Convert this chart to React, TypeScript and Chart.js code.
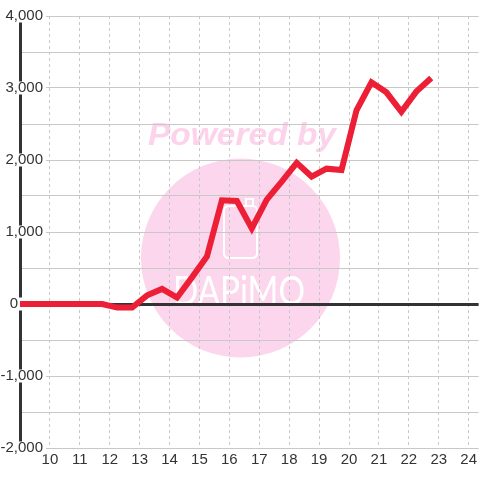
import React, { useEffect, useRef } from 'react';
import { Chart, registerables } from 'chart.js';

Chart.register(...registerables);

// Hours of the day (x) and running balance (y)
const hours = [
  8.75, 9.25, 9.75, 10.25, 10.75, 11.25, 11.75, 12.25, 12.75, 13.25,
  13.75, 14.25, 14.75, 15.25, 15.75, 16.25, 16.75, 17.25, 17.75, 18.25,
  18.75, 19.25, 19.75, 20.25, 20.75, 21.25, 21.75, 22.25, 22.75,
];
const balance = [
  0, 0, 0, 0, 0, 0, 0, -50, -50, 120,
  210, 90, 370, 660, 1440, 1430, 1050, 1450, 1700, 1960,
  1770, 1880, 1860, 2690, 3080, 2940, 2670, 2950, 3140,
];
const xTickValues = [10, 11, 12, 13, 14, 15, 16, 17, 18, 19, 20, 21, 22, 23, 24];
const yTickValues = [4000, 3500, 3000, 2500, 2000, 1500, 1000, 500, 0, -500, -1000, -1500, -2000];
const yLabelledTicks = [4000, 3000, 2000, 1000, 0, -1000, -2000];
const watermarkTop = 'Powered by';
const watermarkBrand = 'DAPiMO';

const FONT = '"Liberation Sans", Arial, sans-serif';

const watermarkPlugin = {
  id: 'watermark',
  beforeDraw(chart: any) {
    const ctx = chart.ctx as CanvasRenderingContext2D;
    ctx.save();
    ctx.fillStyle = '#ffffff';
    ctx.fillRect(0, 0, chart.width, chart.height);

    // pink disc
    ctx.fillStyle = 'rgb(251, 214, 236)';
    ctx.beginPath();
    ctx.arc(240.5, 258, 99.5, 0, Math.PI * 2);
    ctx.fill();

    // "Powered by"
    ctx.fillStyle = 'rgb(252, 211, 234)';
    ctx.font = `italic bold 31px ${FONT}`;
    ctx.textBaseline = 'alphabetic';
    ctx.textAlign = 'left';
    const w = ctx.measureText(watermarkTop).width;
    ctx.save();
    ctx.translate(148, 145);
    ctx.scale(188 / w, 1);
    ctx.fillText(watermarkTop, 0, 0);
    ctx.restore();

    // phone outline
    ctx.strokeStyle = '#ffffff';
    ctx.lineWidth = 2;
    const px = 224, py = 206, pw = 33, ph = 52, pr = 5;
    ctx.beginPath();
    ctx.moveTo(px + pr, py);
    ctx.lineTo(px + pw - pr, py);
    ctx.quadraticCurveTo(px + pw, py, px + pw, py + pr);
    ctx.lineTo(px + pw, py + ph - pr);
    ctx.quadraticCurveTo(px + pw, py + ph, px + pw - pr, py + ph);
    ctx.lineTo(px + pr, py + ph);
    ctx.quadraticCurveTo(px, py + ph, px, py + ph - pr);
    ctx.lineTo(px, py + pr);
    ctx.quadraticCurveTo(px, py, px + pr, py);
    ctx.stroke();
    ctx.beginPath();
    ctx.moveTo(246, 206);
    ctx.lineTo(246, 199);
    ctx.lineTo(253, 199);
    ctx.lineTo(253, 206);
    ctx.stroke();

    // brand text
    ctx.fillStyle = '#ffffff';
    ctx.font = `400 40px Lato, ${FONT}`;
    const bw = ctx.measureText(watermarkBrand).width;
    ctx.save();
    ctx.translate(173, 305);
    ctx.scale(132 / bw, 1);
    ctx.fillText(watermarkBrand, 0, 0);
    ctx.restore();

    ctx.restore();
  },
};

export default function App() {
  const ref = useRef<HTMLCanvasElement | null>(null);

  useEffect(() => {
    document.body.style.margin = '0';
    const canvas = ref.current;
    if (!canvas) return;
    const chart = new Chart(canvas, {
      type: 'line',
      data: {
        datasets: [
          {
            data: hours.map((h, i) => ({ x: h, y: balance[i] })),
            borderColor: '#ec1f36',
            borderWidth: 6,
            pointRadius: 0,
            tension: 0,
            fill: false,
            borderCapStyle: 'butt',
            borderJoinStyle: 'miter',
          },
        ],
      },
      options: {
        animation: false,
        responsive: false,
        devicePixelRatio: 1,
        layout: { padding: { top: 16, left: 0, right: 0, bottom: 0 } },
        plugins: {
          legend: { display: false },
          tooltip: { enabled: false },
        },
        scales: {
          x: {
            type: 'linear',
            min: 9,
            max: 9 + 460 / 30,
            afterBuildTicks: (s: any) => {
              s.ticks = xTickValues.map((v) => ({ value: v }));
            },
            afterFit: (s: any) => {
              s.height = 32;
            },
            grid: { color: '#c8c8c8', lineWidth: 1, drawTicks: false },
            border: { display: false, dash: [3, 3] },
            ticks: {
              autoSkip: false,
              maxRotation: 0,
              padding: 3,
              color: '#333333',
              font: { family: FONT, size: 15 },
              callback: (v: any) => String(v),
            },
          },
          y: {
            type: 'linear',
            min: -2000,
            max: 4000,
            afterBuildTicks: (s: any) => {
              s.ticks = yTickValues.map((v) => ({ value: v }));
            },
            afterFit: (s: any) => {
              s.width = 20;
            },
            grid: {
              color: (c: any) => (c.tick && c.tick.value === 0 ? '#333333' : '#c8c8c8'),
              lineWidth: (c: any) => (c.tick && c.tick.value === 0 ? 3 : 1),
              drawTicks: false,
            },
            border: { display: true, color: '#333333', width: 3 },
            ticks: {
              mirror: true,
              crossAlign: 'far',
              padding: -19.5,
              color: '#333333',
              font: { family: FONT, size: 15, lineHeight: 1 },
              showLabelBackdrop: (c: any) => !!(c.tick && yLabelledTicks.includes(c.tick.value)),
              backdropColor: '#ffffff',
              backdropPadding: { left: 3, right: 3, top: -1, bottom: -1 },
              callback: (v: any) => {
                const n = Number(v);
                if (!yLabelledTicks.includes(n)) return '';
                if (n === 0) return '0      ';
                return n.toLocaleString('en-US');
              },
            },
          },
        },
      },
      plugins: [watermarkPlugin],
    } as any);
    return () => chart.destroy();
  }, []);

  return (
    <div style={{ position: 'fixed', left: 0, top: 0, width: 480, height: 480 }}>
      <canvas ref={ref} width={480} height={480} style={{ display: 'block' }} />
    </div>
  );
}
